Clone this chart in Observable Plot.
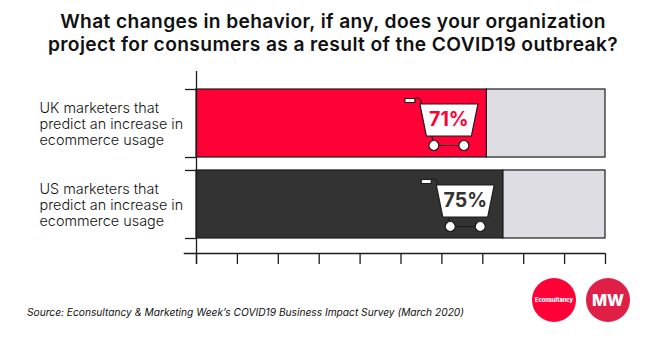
<!DOCTYPE html>
<html><head><meta charset="utf-8">
<script src="https://cdn.jsdelivr.net/npm/d3@7"></script>
<script src="https://cdn.jsdelivr.net/npm/@observablehq/plot@0.6"></script>
<style>
html,body{margin:0;padding:0;background:#fff;width:666px;height:355px;overflow:hidden}
#title{height:71px;box-sizing:border-box;padding-top:10px;text-align:center;font:600 19.2px/23.4px Inter,sans-serif;letter-spacing:.38px;color:#111}
#chart svg{display:block}
#foot{position:relative;height:88px;font-family:Inter,sans-serif}
#src{position:absolute;left:27px;top:38px;font:italic 10.2px/14px Inter,sans-serif;color:#111}
.logo{position:absolute;top:11px;width:44px;height:44px;border-radius:50%;display:flex;align-items:center;justify-content:center;color:#fff;font-weight:800}
</style></head><body>
<div id="title"><div>What changes in behavior, if any, does your organization</div><div>project for consumers as a result of the COVID19 outbreak?</div></div>
<div id="chart"></div>
<div id="foot">
<div id="src">Source: Econsultancy &amp; Marketing Week’s COVID19 Business Impact Survey (March 2020)</div>
<div class="logo" style="left:532px;background:#ff0037;font-size:5.6px">Econsultancy</div>
<div class="logo" style="left:586px;background:#e01f46;font-size:16px">MW</div>
</div>
<script>
const labels = ["UK marketers that\npredict an increase in\necommerce usage", "US marketers that\npredict an increase in\necommerce usage"];
const values = [71, 75];
const fills = ["#ff0037", "#333333"];
const xTicks = [0, 10, 20, 30, 40, 50, 60, 70, 80, 90, 100];
const barEdges = [0, 0.84, 1, 1.84];
const rows = values.map((v, i) => ({label: labels[i], value: v, fill: fills[i], top: i, bottom: i + 0.84, mid: i + 0.42}));

const ink = "#1c1c1c";
const cartBody = {draw(c) {
  c.moveTo(-29, -19.5); c.lineTo(29, -19.5); c.lineTo(22.5, 12.5); c.lineTo(-22.5, 12.5); c.closePath();
  c.moveTo(-44, -25); c.lineTo(-34, -25); c.lineTo(-34, -21); c.lineTo(-44, -21); c.closePath();
  c.moveTo(-10, 22); c.arc(-15, 22, 5, 0, 2 * Math.PI); c.closePath();
  c.moveTo(20, 22); c.arc(15, 22, 5, 0, 2 * Math.PI); c.closePath();
}};
const cartFrame = {draw(c) {
  c.moveTo(-34, -25.5); c.lineTo(-31, -25.5); c.quadraticCurveTo(-28, -25.5, -27.5, -19.5);
  c.moveTo(-17, 12.5); c.lineTo(-15, 22); c.lineTo(15, 22);
}};

const plot = Plot.plot({
  width: 666, height: 196,
  marginLeft: 196, marginRight: 61, marginTop: 18, marginBottom: 14,
  x: {domain: [0, 100], range: [196, 605]},
  y: {domain: [0, 1.84], range: [18, 167]},
  marks: [
    Plot.rectX(rows, {x1: "value", x2: () => 100, y1: "top", y2: "bottom", fill: "#dedde3", stroke: ink, strokeWidth: 1.2}),
    Plot.rectX(rows, {x1: () => 0, x2: "value", y1: "top", y2: "bottom", fill: "fill", stroke: ink, strokeWidth: 1.2}),
    Plot.ruleX([0], {y1: -0.222, y2: 2.16, stroke: ink, strokeWidth: 1.3}),
    Plot.ruleY([2.025], {x1: -3, x2: 100, stroke: ink, strokeWidth: 1.3}),
    Plot.axisX({ticks: xTicks, tickFormat: () => "", tickSize: 11, stroke: ink, strokeWidth: 1.3, label: null}),
    Plot.axisY({ticks: barEdges, tickFormat: () => "", tickSize: 11, stroke: ink, strokeWidth: 1.3, label: null}),
    Plot.dot(rows, {x: "value", y: "mid", dx: -38, symbol: cartFrame, r: 10, fill: "none", stroke: ink, strokeWidth: 1.2}),
    Plot.dot(rows, {x: "value", y: "mid", dx: -38, symbol: cartBody, r: 10, fill: "#fff", stroke: ink, strokeWidth: 1.2}),
    Plot.text(rows, {x: "value", y: "mid", dx: -38, dy: -3.5, text: d => d.value + "%", fill: "fill", fontSize: 19.5, fontWeight: 700, fontFamily: "Inter, sans-serif"}),
    Plot.text(rows, {y: "mid", frameAnchor: "left", dx: -157, dy: 0, text: "label", textAnchor: "start", fill: "#111", fontSize: 14.4, fontWeight: 300, lineHeight: 1.12, fontFamily: "Inter, sans-serif"})
  ]
});
document.getElementById("chart").appendChild(plot);
</script></body></html>
